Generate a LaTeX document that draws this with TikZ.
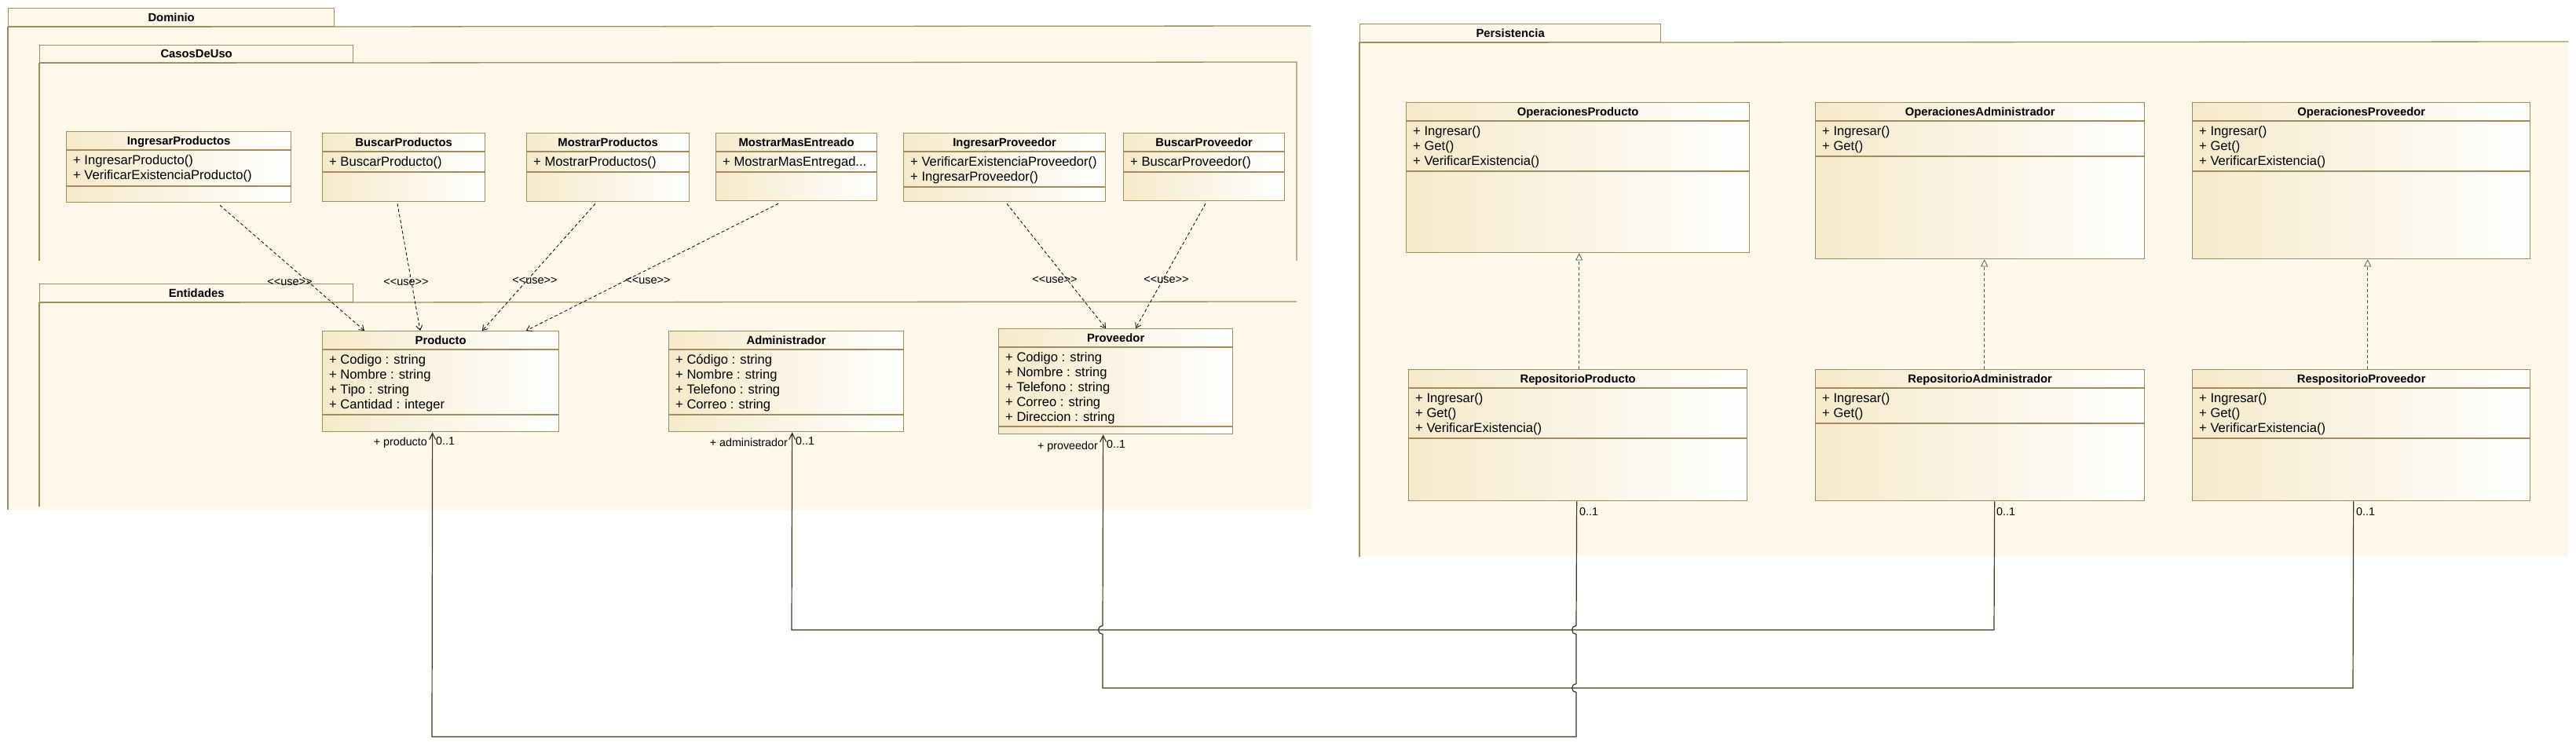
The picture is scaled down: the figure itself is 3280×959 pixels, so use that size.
\documentclass[tikz,border=0pt]{standalone}
\usepackage{fontspec}
\newfontfamily\umlsans{Liberation Sans}
\usetikzlibrary{arrows.meta}

\definecolor{pkgcream}{HTML}{FDF8EA}
\definecolor{classtan}{HTML}{F7EACB}
\definecolor{umlborder}{HTML}{A08C5E}
\definecolor{assocbrown}{HTML}{3F3422}

\tikzset{
  pkgfill/.style={fill=pkgcream},
  pkgline/.style={draw=umlborder, line width=1.3pt},
  pkgtab/.style={draw=umlborder, line width=1.3pt, fill=pkgcream, anchor=north west, inner sep=0pt,
    font=\umlsans\fontsize{14.8}{17}\selectfont\bfseries},
  classbox/.style={draw=umlborder, line width=1.3pt, left color=classtan, right color=white,
    inner sep=0pt, anchor=north west},
  classline/.style={draw=umlborder, line width=1.3pt},
  classtitle/.style={font=\umlsans\fontsize{14.8}{17}\selectfont\bfseries, inner sep=0pt,
    text height=13pt, text depth=3pt},
  classitems/.style={font=\umlsans\fontsize{16.6}{19}\selectfont, align=left, inner sep=0pt,
    anchor=north west},
  uselabel/.style={font=\umlsans\fontsize{14.5}{17}\selectfont, inner sep=0pt,
    text height=11pt, text depth=3pt},
  endlabel/.style={font=\umlsans\fontsize{14.3}{17}\selectfont, inner sep=0pt,
    text height=11pt, text depth=3pt},
  depend/.style={draw=black, line width=0.8pt, dash pattern=on 4pt off 3pt,
    -{Straight Barb[length=6pt,width=8pt]}},
  realize/.style={draw=black!65, line width=0.8pt, dash pattern=on 4pt off 3pt,
    -{Triangle[open,length=9pt,width=9pt]}},
  assoc/.style={draw=assocbrown, line width=1.2pt, -{Straight Barb[length=8pt,width=8pt]}},
}

% class box: name, x, y, width, height, second rule, title, items
\newcommand{\umlclass}[8]{%
  \node[classbox, minimum width=#4pt, minimum height=#5pt] (#1) at (#2,#3) {};
  \draw[classline] ([yshift=-24pt]#1.north west) -- ([yshift=-24pt]#1.north east);
  \draw[classline] ([yshift=-#6pt]#1.north west) -- ([yshift=-#6pt]#1.north east);
  \node[classtitle] (#1-title) at ([yshift=-12pt]#1.north) {#7};
  \node[classitems] (#1-items) at ([xshift=9pt,yshift=-27pt]#1.north west) {\rule{0pt}{15pt}#8};
}

\begin{document}
\begin{tikzpicture}[x=1pt, y=-1pt]
  \path[use as bounding box, fill=white] (0,0) rectangle (3280,959);

  % Dominio
  \fill[pkgfill] (10,33) rectangle (1670,649);
  \node[pkgtab, minimum width=415pt, minimum height=23pt] (domTab) at (10,10) {Dominio};
  \draw[pkgline] (domTab.south west) -- (10,649);
  \draw[pkgline] (domTab.south west) -- (1669,33);

  % CasosDeUso
  \node[pkgtab, minimum width=399pt, minimum height=22pt] (casosTab) at (50,57) {CasosDeUso};
  \draw[pkgline] (casosTab.south west) -- (50,332);
  \draw[pkgline] (casosTab.south west) -- (1651,79) -- (1651,332);

  % Entidades
  \node[pkgtab, minimum width=399pt, minimum height=23pt] (entTab) at (50,361) {Entidades};
  \draw[pkgline] (entTab.south west) -- (50,645);
  \draw[pkgline] (entTab.south west) -- (1651,384);

  % Persistencia
  \fill[pkgfill] (1731,53) rectangle (3270,709);
  \node[pkgtab, minimum width=383pt, minimum height=23pt] (perTab) at (1731,30) {Persistencia};
  \draw[pkgline] (perTab.south west) -- (1731,709);
  \draw[pkgline] (perTab.south west) -- (3270,53);

  % use cases
  \umlclass{ingProd}{84}{167}{286}{90}{70}{IngresarProductos}{+ IngresarProducto()\\+ VerificarExistenciaProducto()}
  \umlclass{busProd}{410}{169}{207}{87}{50}{BuscarProductos}{+ BuscarProducto()}
  \umlclass{mosProd}{670}{169}{207}{87}{50}{MostrarProductos}{+ MostrarProductos()}
  \umlclass{mosMas}{911}{169}{205}{86}{50}{MostrarMasEntreado}{+ MostrarMasEntregad...}
  \umlclass{ingProv}{1150}{169}{257}{87}{69}{IngresarProveedor}{+ VerificarExistenciaProveedor()\\+ IngresarProveedor()}
  \umlclass{busProv}{1430}{169}{205}{86}{50}{BuscarProveedor}{+ BuscarProveedor()}

  % entities
  \umlclass{prod}{410}{421}{301}{128}{107}{Producto}{+ Codigo : string\\+ Nombre : string\\+ Tipo : string\\+ Cantidad : integer}
  \umlclass{admin}{851}{421}{299}{128}{107}{Administrador}{+ Código : string\\+ Nombre : string\\+ Telefono : string\\+ Correo : string}
  \umlclass{prov}{1271}{418}{298}{134}{125}{Proveedor}{+ Codigo : string\\+ Nombre : string\\+ Telefono : string\\+ Correo : string\\+ Direccion : string}

  % persistence
  \umlclass{opProd}{1790}{130}{437}{191}{88}{OperacionesProducto}{+ Ingresar()\\+ Get()\\+ VerificarExistencia()}
  \umlclass{opAdmin}{2311}{130}{419}{199}{69}{OperacionesAdministrador}{+ Ingresar()\\+ Get()}
  \umlclass{opProv}{2791}{130}{430}{199}{88}{OperacionesProveedor}{+ Ingresar()\\+ Get()\\+ VerificarExistencia()}
  \umlclass{repProd}{1793}{470}{431}{167}{88}{RepositorioProducto}{+ Ingresar()\\+ Get()\\+ VerificarExistencia()}
  \umlclass{repAdmin}{2311}{470}{419}{167}{69}{RepositorioAdministrador}{+ Ingresar()\\+ Get()}
  \umlclass{repProv}{2791}{470}{430}{167}{88}{RespositorioProveedor}{+ Ingresar()\\+ Get()\\+ VerificarExistencia()}

  % <<use>> dependencies
  \draw[depend] ([xshift=196pt,yshift=-3pt]ingProd.south west) -- ([xshift=54pt]prod.north west);
  \draw[depend] ([xshift=96pt,yshift=-2pt]busProd.south west) -- ([xshift=125pt]prod.north west);
  \draw[depend] ([xshift=88pt,yshift=-2pt]mosProd.south west) -- ([xshift=204pt]prod.north west);
  \draw[depend] ([xshift=80pt,yshift=-3pt]mosMas.south west) -- ([xshift=260pt]prod.north west);
  \draw[depend] ([xshift=132pt,yshift=-2pt]ingProv.south west) -- ([xshift=137pt]prov.north west);
  \draw[depend] ([xshift=105pt,yshift=-3pt]busProv.south west) -- ([xshift=175pt]prov.north west);
  \node[uselabel] (use1) at (369,359) {<<use>>};
  \node[uselabel] (use2) at (517,359) {<<use>>};
  \node[uselabel] (use3) at (681,357) {<<use>>};
  \node[uselabel] (use4) at (825,357) {<<use>>};
  \node[uselabel] (use5) at (1343,356) {<<use>>};
  \node[uselabel] (use6) at (1485,356) {<<use>>};

  % realizations
  \draw[realize] ([xshift=1.5pt]repProd.north) -- ([xshift=1.5pt]repProd.north |- opProd.south);
  \draw[realize] ([xshift=5.5pt]repAdmin.north) -- ([xshift=5.5pt]repAdmin.north |- opAdmin.south);
  \draw[realize] ([xshift=8pt]repProv.north) -- ([xshift=8pt]repProv.north |- opProv.south);

  % associations
  \draw[assoc] ([xshift=-1.5pt]repProd.south) -- (2007,796.5)
    arc[start angle=270, end angle=90, radius=5.5] -- (2007,870.5)
    arc[start angle=270, end angle=90, radius=5.5] -- (2007,938) -- (550,938)
    -- ([xshift=-10.5pt]prod.south);
  \draw[assoc] ([xshift=18.5pt]repAdmin.south) -- (2539,802) -- (1008,802)
    -- ([xshift=7.5pt]admin.south);
  \draw[assoc] ([xshift=-10pt]repProv.south) -- (2996,876) -- (1404,876) -- (1404,807.5)
    arc[start angle=90, end angle=270, radius=5.5] -- ([xshift=-16pt]prov.south);

  % role names and multiplicities
  \node[endlabel, anchor=east] (prodRole) at (544,563) {+ producto};
  \node[endlabel, anchor=west] (prodMult) at (555,562) {0..1};
  \node[endlabel, anchor=east] (adminRole) at (1003,564) {+ administrador};
  \node[endlabel, anchor=west] (adminMult) at (1013,562) {0..1};
  \node[endlabel, anchor=east] (provRole) at (1398,568) {+ proveedor};
  \node[endlabel, anchor=west] (provMult) at (1409,566) {0..1};
  \node[endlabel, anchor=west] (repProdMult) at (2011,652) {0..1};
  \node[endlabel, anchor=west] (repAdminMult) at (2542,652) {0..1};
  \node[endlabel, anchor=west] (repProvMult) at (3000,652) {0..1};
\end{tikzpicture}
\end{document}
